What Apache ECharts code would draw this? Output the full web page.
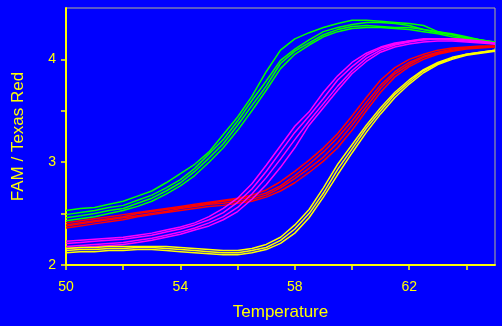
<!DOCTYPE html>
<html>
<head>
<meta charset="utf-8">
<script src="https://cdn.jsdelivr.net/npm/echarts@6/dist/echarts.min.js"></script>
<style>
html,body{margin:0;padding:0;background:#0000ff;}
#chart{width:502px;height:326px;}
</style>
</head>
<body>
<div id="chart"></div>
<script>
// Temperatures (°C)
const temps = [50,50.5,51,51.5,52,52.5,53,53.5,54,54.5,55,55.5,56,56.5,57,57.5,58,58.5,59,59.5,60,60.5,61,61.5,62,62.5,63,63.5,64,64.5,65];

// Green curves
const green1 = [2.53,2.55,2.56,2.59,2.62,2.67,2.72,2.80,2.89,2.98,3.10,3.27,3.44,3.64,3.88,4.09,4.20,4.26,4.31,4.35,4.38,4.38,4.37,4.36,4.35,4.33,4.27,4.25,4.22,4.19,4.16];
const green2 = [2.49,2.51,2.53,2.56,2.58,2.63,2.68,2.75,2.83,2.94,3.08,3.22,3.40,3.60,3.79,3.99,4.10,4.19,4.27,4.31,4.34,4.36,4.36,4.35,4.33,4.29,4.26,4.24,4.21,4.19,4.17];
const green3 = [2.46,2.48,2.50,2.53,2.55,2.60,2.65,2.72,2.80,2.91,3.04,3.18,3.36,3.55,3.74,3.96,4.08,4.16,4.24,4.29,4.32,4.33,4.32,4.31,4.31,4.29,4.27,4.24,4.21,4.19,4.17];
const green4 = [2.43,2.45,2.47,2.50,2.53,2.57,2.62,2.69,2.77,2.87,3.00,3.14,3.31,3.50,3.70,3.91,4.05,4.14,4.22,4.27,4.30,4.31,4.31,4.30,4.29,4.27,4.25,4.22,4.20,4.18,4.16];

// Red curves
const red1 = [2.41,2.43,2.45,2.47,2.49,2.51,2.53,2.55,2.57,2.59,2.61,2.63,2.65,2.68,2.73,2.81,2.91,3.02,3.14,3.28,3.45,3.63,3.80,3.92,4.00,4.05,4.09,4.11,4.12,4.13,4.13];
const red2 = [2.39,2.41,2.43,2.45,2.47,2.50,2.52,2.54,2.56,2.58,2.60,2.62,2.64,2.66,2.70,2.77,2.87,2.98,3.10,3.24,3.40,3.58,3.75,3.88,3.97,4.03,4.07,4.10,4.11,4.12,4.13];
const red3 = [2.38,2.40,2.42,2.44,2.46,2.48,2.50,2.52,2.55,2.57,2.59,2.60,2.62,2.64,2.68,2.75,2.84,2.94,3.05,3.19,3.36,3.54,3.72,3.86,3.95,4.02,4.06,4.09,4.11,4.12,4.12];
const red4 = [2.36,2.38,2.40,2.42,2.44,2.47,2.49,2.51,2.53,2.55,2.57,2.58,2.60,2.62,2.66,2.72,2.80,2.90,3.01,3.14,3.31,3.50,3.68,3.83,3.93,4.00,4.05,4.08,4.10,4.11,4.12];

// Magenta curves
const magenta1 = [2.23,2.24,2.25,2.26,2.27,2.29,2.31,2.34,2.37,2.41,2.47,2.55,2.65,2.79,2.97,3.16,3.35,3.49,3.68,3.84,3.97,4.06,4.12,4.16,4.18,4.20,4.20,4.20,4.19,4.18,4.16];
const magenta2 = [2.21,2.22,2.23,2.24,2.25,2.27,2.29,2.32,2.35,2.39,2.44,2.51,2.61,2.74,2.91,3.10,3.29,3.45,3.62,3.80,3.93,4.04,4.11,4.15,4.18,4.19,4.20,4.20,4.19,4.17,4.16];
const magenta3 = [2.18,2.19,2.20,2.21,2.22,2.24,2.26,2.29,2.32,2.36,2.41,2.47,2.56,2.69,2.85,3.03,3.22,3.40,3.57,3.74,3.89,4.01,4.09,4.14,4.17,4.19,4.20,4.19,4.18,4.17,4.15];
const magenta4 = [2.16,2.17,2.18,2.19,2.20,2.22,2.24,2.27,2.30,2.34,2.38,2.44,2.52,2.64,2.78,2.95,3.14,3.36,3.53,3.70,3.86,3.98,4.07,4.12,4.15,4.17,4.18,4.18,4.17,4.16,4.15];

// Yellow curves
const yellow1 = [2.16,2.17,2.17,2.18,2.18,2.18,2.18,2.18,2.17,2.16,2.15,2.14,2.14,2.16,2.20,2.27,2.39,2.54,2.75,2.98,3.17,3.36,3.53,3.68,3.80,3.90,3.97,4.02,4.05,4.07,4.09];
const yellow2 = [2.14,2.15,2.15,2.16,2.16,2.17,2.17,2.16,2.15,2.14,2.13,2.12,2.12,2.14,2.17,2.24,2.35,2.50,2.70,2.93,3.13,3.33,3.50,3.66,3.78,3.89,3.96,4.01,4.05,4.07,4.09];
const yellow3 = [2.12,2.13,2.13,2.14,2.14,2.15,2.15,2.14,2.13,2.12,2.11,2.10,2.10,2.12,2.15,2.21,2.31,2.46,2.66,2.88,3.09,3.29,3.47,3.63,3.76,3.87,3.95,4.00,4.04,4.06,4.08];

// Axis ticks and labels
const xTicks = [50,52,54,56,58,60,62,64];
const xLabels = [50,54,58,62];
const yTicks = [2,2.5,3,3.5,4];
const yLabels = [2,3,4];

const groups = [
  {color:'#00ff00', curves:[green1,green2,green3,green4]},
  {color:'#ff0000', curves:[red1,red2,red3,red4]},
  {color:'#ff00ff', curves:[magenta1,magenta2,magenta3,magenta4]},
  {color:'#ffff00', curves:[yellow1,yellow2,yellow3]}
];

const series = [];
groups.forEach(g => {
  g.curves.forEach(c => {
    series.push({
      type:'line',
      data: temps.map((t,i)=>[t,c[i]]),
      showSymbol:false,
      symbol:'none',
      lineStyle:{color:g.color,width:1.5},
      itemStyle:{color:g.color},
      emphasis:{disabled:true},
      silent:true
    });
  });
});

const font = "'Liberation Sans', Arial, sans-serif";
const txt = '#ffff00';

const chart = echarts.init(document.getElementById('chart'), null, {renderer:'canvas'});
chart.setOption({
  backgroundColor:'#0000ff',
  animation:false,
  grid:{left:66, top:8, right:7, bottom:57, show:true, backgroundColor:'#0000ff', borderColor:'#b4b48c', borderWidth:1},
  xAxis:{
    type:'value', min:50, max:65,
    name:'Temperature', nameLocation:'middle', nameGap:39,
    nameTextStyle:{color:txt, fontSize:17, fontFamily:font},
    axisLine:{show:true, onZero:false, lineStyle:{color:'#ffff00', width:2}},
    axisTick:{show:true, inside:false, length:5, customValues:xTicks, lineStyle:{color:'#ffff00', width:1.5}},
    axisLabel:{color:txt, fontSize:14, fontFamily:font, margin:15, customValues:xLabels},
    splitLine:{show:false}
  },
  yAxis:{
    type:'value', min:2, max:4.5,
    name:'FAM / Texas Red', nameLocation:'middle', nameGap:39, nameRotate:90,
    nameTextStyle:{color:txt, fontSize:17, fontFamily:font},
    axisLine:{show:true, onZero:false, lineStyle:{color:'#ffff00', width:2}},
    axisTick:{show:true, inside:false, length:5, customValues:yTicks, lineStyle:{color:'#ffff00', width:1.5}},
    axisLabel:{color:txt, fontSize:14, fontFamily:font, margin:10, customValues:yLabels},
    splitLine:{show:false}
  },
  series:series
});
</script>
</body>
</html>
